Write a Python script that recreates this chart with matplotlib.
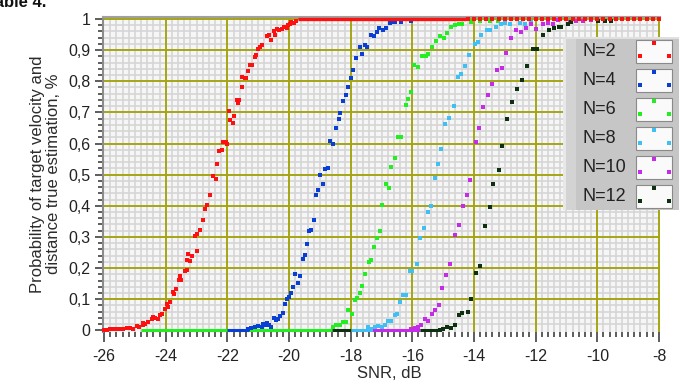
import matplotlib
matplotlib.use("Agg")
import matplotlib.pyplot as plt
from matplotlib.ticker import MultipleLocator
from matplotlib.patches import Rectangle

# series names and colours
labels = ["N=2", "N=4", "N=6", "N=8", "N=10", "N=12"]
colors = ["#ff1010", "#0a3fd4", "#22ee22", "#40bff5", "#c62be8", "#0c3010"]

# (SNR in dB, probability)
x_n2 = [-26.0, -25.9, -25.8, -25.7, -25.6, -25.5, -25.37, -25.26, -25.16, -25.05, -24.94, -24.86,
        -24.75, -24.73, -24.67, -24.56, -24.45, -24.40, -24.35, -24.24, -24.19, -24.13, -24.02,
        -23.94, -23.97, -23.86, -23.77, -23.73, -23.65, -23.57, -23.54, -23.50, -23.38, -23.30,
        -23.30, -23.27, -23.21, -23.16, -23.05, -23.00, -22.98, -22.89, -22.78, -22.73, -22.67,
        -22.57, -22.46, -22.37, -22.33, -22.26, -22.16, -22.14, -22.05, -22.00, -21.95, -21.92,
        -21.83, -21.79, -21.70, -21.67, -21.62, -21.54, -21.51, -21.43, -21.38, -21.32, -21.25,
        -21.19, -21.11, -21.08, -21.00, -20.94, -20.86, -20.73, -20.64, -20.59, -20.49, -20.46,
        -20.38, -20.32, -20.24, -20.17, -20.08, -20.03, -19.98, -19.92, -19.85, -19.76]
y_n2 = [0.002, 0.002, 0.003, 0.003, 0.004, 0.003, 0.005, 0.009, 0.009, 0.005, 0.013, 0.011,
        0.024, 0.016, 0.019, 0.027, 0.035, 0.043, 0.041, 0.038, 0.048, 0.054, 0.070,
        0.075, 0.086, 0.091, 0.123, 0.118, 0.134, 0.161, 0.174, 0.163, 0.191, 0.195,
        0.225, 0.244, 0.223, 0.239, 0.303, 0.311, 0.255, 0.322, 0.354, 0.391, 0.402,
        0.434, 0.495, 0.487, 0.533, 0.575, 0.580, 0.605, 0.605, 0.599, 0.704, 0.675,
        0.666, 0.688, 0.741, 0.731, 0.741, 0.782, 0.814, 0.811, 0.812, 0.832, 0.852,
        0.853, 0.878, 0.884, 0.905, 0.910, 0.916, 0.946, 0.948, 0.934, 0.961, 0.950,
        0.967, 0.964, 0.969, 0.975, 0.971, 0.980, 0.984, 0.991, 0.987, 0.993]
# sparse N=2 points along the top at the right end
x_n2_top = [-14.2, -14.0, -13.8, -13.6, -13.4, -13.2, -13.0, -12.8, -12.6, -12.4, -12.2, -12.0,
            -11.8, -11.6, -11.4, -11.2, -11.0, -10.8, -10.6, -10.4, -10.2, -10.0, -9.8, -9.6,
            -9.4, -9.2, -9.0, -8.8, -8.6, -8.4, -8.2, -8.0]

x_n4 = [-21.32, -21.22, -21.11, -21.00, -20.89, -20.84, -20.75, -20.71, -20.64, -20.57, -20.49,
        -20.41, -20.35, -20.28, -20.19, -20.14, -20.06, -20.01, -19.92, -19.87, -19.79, -19.70,
        -19.65, -19.56, -19.49, -19.43, -19.36, -19.28, -19.18, -19.11, -19.06, -18.99, -18.90,
        -18.82, -18.74, -18.66, -18.57, -18.48, -18.39, -18.33, -18.25, -18.16, -18.08, -18.00,
        -17.92, -17.83, -17.70, -17.63, -17.54, -17.47, -17.33, -17.25, -17.16, -17.08, -16.95,
        -16.87, -16.73, -16.65, -16.57, -16.36, -16.05]
y_n4 = [0.005, 0.007, 0.011, 0.014, 0.011, 0.021, 0.018, 0.024, 0.018, 0.011, 0.040,
        0.032, 0.037, 0.046, 0.057, 0.085, 0.100, 0.107, 0.121, 0.139, 0.182, 0.153,
        0.174, 0.230, 0.243, 0.278, 0.318, 0.321, 0.353, 0.436, 0.452, 0.498, 0.469,
        0.519, 0.522, 0.608, 0.600, 0.650, 0.678, 0.697, 0.737, 0.757, 0.782, 0.811,
        0.835, 0.876, 0.910, 0.889, 0.916, 0.910, 0.950, 0.946, 0.959, 0.971, 0.964,
        0.971, 0.988, 0.991, 0.991, 0.991, 0.993]

x_n6 = [-18.57, -18.48, -18.35, -18.25, -18.16, -18.08, -17.97, -17.87, -17.78, -17.71, -17.63,
        -17.54, -17.41, -17.33, -17.25, -17.16, -17.06, -16.97, -16.84, -16.76, -16.68, -16.55,
        -16.46, -16.36, -16.21, -16.14, -16.03, -15.94, -15.82, -15.68, -15.57, -15.49, -15.35,
        -15.24, -15.11, -14.98, -14.86, -14.73, -14.63, -14.50, -14.39, -14.09, -13.82, -13.49,
        -13.22]
y_n6 = [0.011, 0.016, 0.016, 0.027, 0.027, 0.064, 0.053, 0.096, 0.105, 0.121, 0.142,
        0.182, 0.219, 0.225, 0.268, 0.297, 0.318, 0.404, 0.471, 0.457, 0.525, 0.555,
        0.621, 0.621, 0.725, 0.744, 0.766, 0.853, 0.846, 0.881, 0.881, 0.886, 0.910,
        0.930, 0.946, 0.939, 0.955, 0.975, 0.980, 0.983, 0.983, 0.990, 0.993, 0.993,
        0.993]

x_n8 = [-17.43, -17.33, -17.22, -17.11, -17.00, -16.89, -16.79, -16.68, -16.57, -16.50, -16.39,
        -16.30, -16.19, -16.08, -16.00, -15.85, -15.76, -15.63, -15.49, -15.38, -15.27, -15.17,
        -15.06, -14.95, -14.81, -14.66, -14.52, -14.41, -14.28, -14.16, -13.98, -13.87, -13.76,
        -13.58, -13.47, -13.30, -13.11, -13.00, -12.84, -12.52, -12.33, -12.14]
y_n8 = [0.011, 0.005, 0.011, 0.014, 0.011, 0.016, 0.029, 0.029, 0.048, 0.053, 0.091,
        0.114, 0.114, 0.190, 0.190, 0.214, 0.297, 0.329, 0.380, 0.399, 0.490, 0.533,
        0.584, 0.662, 0.682, 0.720, 0.814, 0.823, 0.848, 0.884, 0.919, 0.926, 0.948,
        0.964, 0.964, 0.975, 0.985, 0.987, 0.985, 0.988, 0.985, 0.990]

x_n10 = [-16.05, -15.92, -15.82, -15.71, -15.60, -15.49, -15.35, -15.25, -15.13, -15.03, -14.90,
         -14.79, -14.60, -14.50, -14.36, -14.23, -14.12, -13.95, -13.84, -13.71, -13.55, -13.42,
         -13.26, -13.09, -12.95, -12.81, -12.65, -12.46, -12.30, -12.14, -11.98, -11.76, -11.60,
         -11.44, -11.28, -10.90, -10.68, -10.47, -10.20]
y_n10 = [0.005, 0.007, 0.011, 0.016, 0.035, 0.029, 0.051, 0.066, 0.080, 0.137, 0.179,
         0.214, 0.305, 0.339, 0.399, 0.434, 0.482, 0.605, 0.650, 0.718, 0.757, 0.790,
         0.835, 0.841, 0.892, 0.939, 0.964, 0.959, 0.972, 0.985, 0.967, 0.985, 0.987,
         0.983, 0.996, 0.990, 0.994, 0.994, 0.998]

x_n12 = [-15.11, -15.00, -14.88, -14.73, -14.63, -14.50, -14.38, -14.19, -14.09, -13.95, -13.79,
         -13.65, -13.49, -13.38, -13.20, -13.08, -12.92, -12.76, -12.59, -12.43, -12.27, -12.09,
         -11.95, -11.76, -11.57, -11.41, -11.25, -11.17, -10.96, -10.85, -9.98, -9.76, -9.55]
y_n12 = [0.002, 0.005, 0.011, 0.007, 0.018, 0.050, 0.056, 0.059, 0.102, 0.185, 0.206,
         0.334, 0.396, 0.469, 0.514, 0.592, 0.680, 0.734, 0.774, 0.803, 0.849, 0.902,
         0.902, 0.948, 0.964, 0.972, 0.975, 0.975, 0.985, 0.990, 0.993, 0.993, 0.993]

# runs of points lying on 0 (which series shows through, from to)
zero_idx = [2, 1, 5, 3, 4, 5]
zero_from = [-24.8, -22.0, -18.6, -18.0, -17.3, -15.76]
zero_to = [-18.6, -21.3, -18.0, -17.3, -15.76, -15.1]
# N=2 run of points lying on 1
one_from = -19.7
one_to = -14.25

x_ticks = [-26, -24, -22, -20, -18, -16, -14, -12, -10, -8]
y_ticks = [0, 0.1, 0.2, 0.3, 0.4, 0.5, 0.6, 0.7, 0.8, 0.9, 1]
y_ticklabels = ["0", "0,1", "0,2", "0,3", "0,4", "0,5", "0,6", "0,7", "0,8", "0,9", "1"]

plt.rcParams["font.family"] = ["Liberation Sans", "DejaVu Sans"]
plt.rcParams["axes.unicode_minus"] = False

W, H = 679, 385
fig = plt.figure(figsize=(W / 100, H / 100), dpi=100)
ax = fig.add_axes([103.1 / W, 1 - 332.2 / H, 556.8 / W, 315.4 / H])
ax.set_facecolor("#f6f6f6")
ax.set_xlim(-26.03, -7.97)
ax.set_ylim(-0.006, 1.007)

ax.set_xticks(x_ticks)
ax.set_xticklabels([str(t) for t in x_ticks])
ax.set_yticks(y_ticks)
ax.set_yticklabels(y_ticklabels)
ax.xaxis.set_minor_locator(MultipleLocator(0.2))
ax.yaxis.set_minor_locator(MultipleLocator(0.02))

# fine grey grid below, olive major lines on top of it
ax.grid(which="minor", color="#d6d6d6", linewidth=1.2)
ax.set_axisbelow(True)
for t in x_ticks[1:]:
    ax.axvline(t, color="#a5a514", linewidth=1.4, zorder=1)
for t in y_ticks[1:]:
    ax.axhline(t, color="#a5a514", linewidth=1.4, zorder=1)

ax.tick_params(axis="x", which="major", length=7, width=1.3, color="#505050", pad=5,
               labelsize=11.5, labelcolor="#222222")
ax.tick_params(axis="x", which="minor", length=3.5, width=1.3, color="#505050")
ax.tick_params(axis="y", which="major", length=6, width=1.3, color="#505050", pad=3,
               labelsize=11.5, labelcolor="#222222")
ax.tick_params(axis="y", which="minor", length=3.5, width=1.3, color="#505050")

for s in ["right", "bottom"]:
    ax.spines[s].set_visible(False)
ax.spines["left"].set_color("#8c8c8c")
ax.spines["left"].set_linewidth(1.5)
ax.spines["top"].set_color("#a0a0a0")
ax.spines["top"].set_linewidth(1.5)

# flat runs on 0
for i, a, b in zip(zero_idx, zero_from, zero_to):
    ax.hlines(0, a, b, colors=colors[i], linewidth=2.2, capstyle="butt", clip_on=False, zorder=3)

xs = [x_n2, x_n4, x_n6, x_n8, x_n10, x_n12]
ys = [y_n2, y_n4, y_n6, y_n8, y_n10, y_n12]
for x, y, c in zip(xs, ys, colors):
    ax.plot(x, y, "s", ms=2.7, mew=0, color=c, clip_on=False, zorder=4)

# N=2 along the top
ax.hlines(1, one_from, one_to, colors=colors[0], linewidth=2.4, capstyle="butt", clip_on=False, zorder=5)
ax.plot(x_n2_top, [1] * len(x_n2_top), "s", ms=2.7, mew=0, color=colors[0], clip_on=False, zorder=5)

fig.text(389 / W, 1 - 373 / H, "SNR, dB", ha="center", va="center", fontsize=12, color="#2b2b2b")
fig.text(45.5 / W, 1 - 174 / H, "Probability of target velocity and\ndistance true estimation, %",
         rotation=90, ha="center", va="center", multialignment="center", fontsize=12,
         color="#2b2b2b", linespacing=1.15)
# caption above the chart, cropped in the source image
fig.text(-0.02, 1 - 7 / H, "Table 4.", fontsize=12, fontweight="bold", va="baseline", color="#111111")

# legend panel
lax = fig.add_axes([563 / W, 1 - 210 / H, 116 / W, 173 / H])
lax.set_xlim(563, 679)
lax.set_ylim(210, 37)
lax.axis("off")
lax.add_patch(Rectangle((563, 37), 116, 173, facecolor="#c6c6c6", edgecolor="none"))
lax.add_patch(Rectangle((566, 37), 10, 173, facecolor="#d3d3d3", edgecolor="none"))
lax.add_patch(Rectangle((563, 37), 3, 173, facecolor="#e8e8e8", edgecolor="none"))
lax.add_patch(Rectangle((563, 37), 116, 2.5, facecolor="#e0e0e0", edgecolor="none"))
for i, (lab, c) in enumerate(zip(labels, colors)):
    yc = 51.5 + 29 * i
    lax.text(583, yc, lab, ha="left", va="center", fontsize=13, color="#222222")
    lax.add_patch(Rectangle((636, yc - 11.5), 36, 23, facecolor="#fafafa", edgecolor="#8a8a8a",
                            linewidth=0.8))
    lax.plot([654, 639.5, 668.5], [yc - 8, yc + 4.5, yc + 4.5], "s", ms=2.4, mew=0, color=c)

fig.savefig("out.png", dpi=100)
